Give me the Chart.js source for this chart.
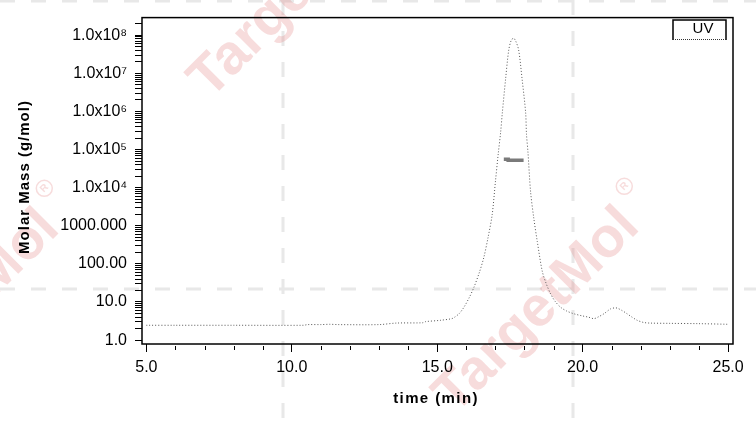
<!DOCTYPE html>
<html>
<head>
<meta charset="utf-8">
<script src="https://cdn.jsdelivr.net/npm/chart.js@4/dist/chart.umd.min.js"></script>
<style>
  body { margin: 0; background: #fff; }
  #wrap { width: 756px; height: 422px; position: relative; }
</style>
</head>
<body>
<div id="wrap"><canvas id="chart" width="756" height="422"></canvas></div>
<script>
// --- DATI ---
const uvTime = [5.0, 6.0, 8.0, 10.4, 10.55, 11.0, 11.3, 11.6, 13.0, 13.6, 14.5, 14.6, 15.1, 15.5, 15.6, 15.76, 15.92, 16.1, 16.26, 16.45, 16.6, 16.75, 16.89, 17.0, 17.1, 17.18, 17.24, 17.35, 17.46, 17.55, 17.63, 17.7, 17.8, 17.92, 18.04, 18.07, 18.12, 18.21, 18.32, 18.44, 18.61, 18.75, 18.9, 19.05, 19.24, 19.45, 19.7, 20.0, 20.2, 20.39, 20.55, 20.73, 20.96, 21.1, 21.19, 21.35, 21.53, 21.7, 21.88, 22.1, 22.3, 23.0, 24.0, 25.0];
const uvValue = [2.45, 2.45, 2.45, 2.45, 2.55, 2.55, 2.6, 2.55, 2.55, 2.8, 2.85, 3.05, 3.3, 3.65, 4.0, 5.0, 7.3, 13, 24, 60, 145, 500, 1950, 14000, 80000, 2.8e5, 9.4e5, 6.9e6, 4.1e7, 7.5e7, 8.3e7, 7.0e7, 4.1e7, 6.9e6, 9.4e5, 2.5e5, 8.6e4, 7.9e3, 1600, 390, 65, 30, 16.3, 10.5, 7.3, 5.8, 4.9, 4.3, 4.0, 3.66, 4.1, 4.9, 6.6, 7.0, 6.9, 6.0, 4.9, 4.0, 3.3, 2.9, 2.8, 2.75, 2.7, 2.6];

const massTime = [17.29, 17.44, 17.44, 17.97];
const massValue = [5.6e4, 5.6e4, 5.2e4, 5.2e4];

const xMajorTicks = [5, 10, 15, 20, 25];
const yTickLabels = ['1.0', '10.0', '100.00', '1000.000', '1.0x10⁴', '1.0x10⁵', '1.0x10⁶', '1.0x10⁷', '1.0x10⁸'];

const FONT = '"Liberation Sans", Arial, sans-serif';

// --- PLUGIN: filigrana, cornice, legenda, titoli ---
const decorPlugin = {
    id: 'decor',
    beforeDraw(chart) {
        const ctx = chart.ctx;
        ctx.save();
        // linee tratteggiate della filigrana
        ctx.strokeStyle = '#e8e8e8';
        ctx.lineWidth = 3;
        ctx.setLineDash([15, 16]);
        [[0, 1, 756, 1], [0, 289, 756, 289], [283, 0, 283, 422], [573, 0, 573, 422]].forEach(l => {
            ctx.beginPath(); ctx.moveTo(l[0], l[1]); ctx.lineTo(l[2], l[3]); ctx.stroke();
        });
        ctx.setLineDash([]);
        // scritte TargetMol
        ctx.fillStyle = 'rgba(226, 120, 120, 0.26)';
        ctx.strokeStyle = 'rgba(226, 120, 120, 0.26)';
        [[210, 100], [455, 415], [-125, 417]].forEach(p => {
            ctx.save();
            ctx.translate(p[0], p[1]);
            ctx.rotate(-Math.PI / 4);
            ctx.font = 'bold 56px ' + FONT;
            ctx.textBaseline = 'alphabetic';
            ctx.fillText('TargetMol', 0, 0);
            const w = ctx.measureText('TargetMol').width;
            ctx.lineWidth = 1.5;
            ctx.beginPath(); ctx.arc(w + 18, -42, 8, 0, Math.PI * 2); ctx.stroke();
            ctx.font = 'bold 10px ' + FONT;
            ctx.textAlign = 'center'; ctx.textBaseline = 'middle';
            ctx.fillText('R', w + 18, -42);
            ctx.restore();
        });
        ctx.restore();
    },
    afterDraw(chart) {
        const ctx = chart.ctx;
        const a = chart.chartArea;
        const xs = chart.scales.x;
        ctx.save();
        // cornice
        ctx.strokeStyle = '#000';
        ctx.lineWidth = 1.5;
        ctx.strokeRect(a.left, a.top, a.right - a.left, a.bottom - a.top);
        // tacche minori asse x
        ctx.lineWidth = 1;
        for (let v = 6; v < 25; v++) {
            if (v % 5 === 0) continue;
            const px = Math.round(xs.getPixelForValue(v)) + 0.5;
            ctx.beginPath(); ctx.moveTo(px, a.bottom + 2); ctx.lineTo(px, a.bottom + 6); ctx.stroke();
        }
        // legenda UV
        ctx.lineWidth = 1.5;
        ctx.beginPath();
        ctx.moveTo(673, 40); ctx.lineTo(673, 20); ctx.lineTo(726, 20); ctx.lineTo(726, 40);
        ctx.stroke();
        ctx.strokeStyle = '#333';
        ctx.lineWidth = 1;
        ctx.setLineDash([1, 1]);
        ctx.beginPath(); ctx.moveTo(673, 39.5); ctx.lineTo(726, 39.5); ctx.stroke();
        ctx.setLineDash([]);
        ctx.fillStyle = '#000';
        ctx.font = '15px ' + FONT;
        ctx.textAlign = 'center'; ctx.textBaseline = 'middle';
        ctx.fillText('UV', 703, 29);
        // titoli assi
        ctx.font = 'bold 15px ' + FONT;
        ctx.letterSpacing = '1.4px';
        ctx.fillText('time (min)', 436, 399);
        ctx.save();
        ctx.translate(25, 177);
        ctx.rotate(-Math.PI / 2);
        ctx.letterSpacing = '1px';
        ctx.fillText('Molar Mass (g/mol)', 0, 0);
        ctx.restore();
        ctx.restore();
    }
};

// --- GRAFICO ---
new Chart(document.getElementById('chart'), {
    type: 'line',
    data: {
        datasets: [
            {
                label: 'UV',
                data: uvTime.map((t, i) => ({ x: t, y: uvValue[i] })),
                borderColor: '#555',
                borderWidth: 1,
                borderDash: [1, 2],
                pointRadius: 0,
                tension: 0.3,
                fill: false
            },
            {
                label: 'Molar Mass',
                data: massTime.map((t, i) => ({ x: t, y: massValue[i] })),
                borderColor: '#7a7a7a',
                borderWidth: 3.5,
                pointRadius: 0,
                tension: 0,
                fill: false
            }
        ]
    },
    options: {
        responsive: false,
        animation: false,
        layout: { padding: { top: 14, right: 23, left: 0, bottom: 0 } },
        plugins: { legend: { display: false }, tooltip: { enabled: false } },
        scales: {
            x: {
                type: 'linear',
                min: 4.85,
                max: 25.17,
                afterBuildTicks: s => { s.ticks = xMajorTicks.map(v => ({ value: v })); },
                afterFit: s => { s.height = 78; },
                grid: { drawOnChartArea: false, tickLength: 8, color: '#000', tickWidth: 1 },
                border: { display: false },
                ticks: {
                    autoSkip: false,
                    maxRotation: 0,
                    padding: 6,
                    color: '#000',
                    font: { family: FONT, size: 16 },
                    callback: v => Number(v).toFixed(1)
                }
            },
            y: {
                type: 'logarithmic',
                min: 0.79,
                max: 2.9e8,
                afterBuildTicks: s => {
                    const t = [];
                    for (let e = 0; e <= 8; e++) {
                        for (let m = 1; m <= 9; m++) {
                            const v = m * Math.pow(10, e);
                            if (v <= s.max) t.push({ value: v, major: m === 1 });
                        }
                    }
                    s.ticks = t;
                },
                afterFit: s => { s.width = 142; },
                grid: { drawOnChartArea: false, tickLength: 7, color: '#000', tickWidth: 1 },
                border: { display: false },
                ticks: {
                    autoSkip: false,
                    padding: 8,
                    color: '#000',
                    font: { family: FONT, size: 16 },
                    callback: function (v) {
                        const e = Math.round(Math.log10(v));
                        return Math.abs(v - Math.pow(10, e)) < 1e-6 * v ? yTickLabels[e] : '';
                    }
                }
            }
        }
    },
    plugins: [decorPlugin]
});
</script>
</body>
</html>
